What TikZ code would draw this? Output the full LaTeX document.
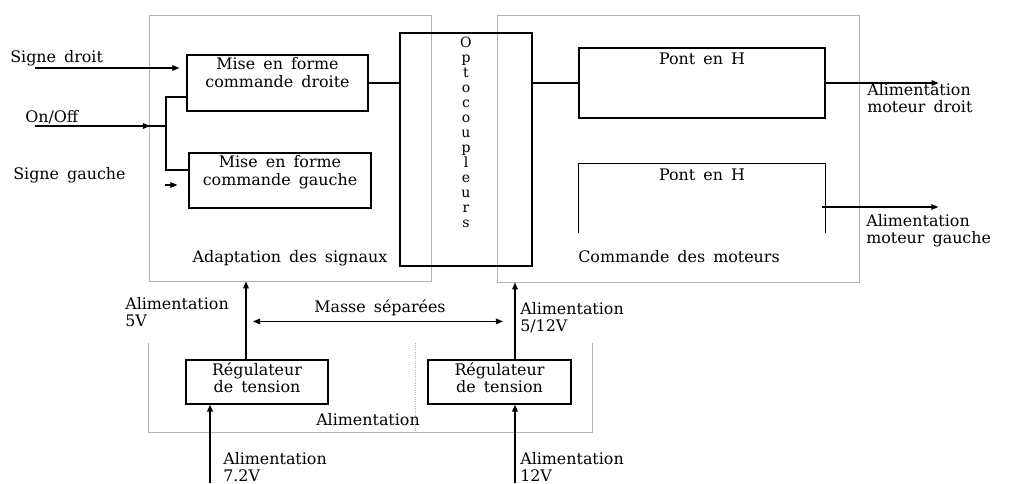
\documentclass[tikz,border=0pt]{standalone}
\usepackage{fontspec}
\setmainfont{DejaVu Serif}[WordSpace=1.6]
\usetikzlibrary{arrows.meta,positioning,calc}

\begin{document}
\begin{tikzpicture}[x=0.025cm, y=-0.025cm,
  frame/.style={draw=gray!60, line width=0.6pt},
  blk/.style={rectangle, draw, line width=0.8pt, inner sep=0pt},
  txt/.style={font=\fontsize{11.3}{12}\selectfont, align=left, inner sep=0pt},
  ctxt/.style={font=\fontsize{11.3}{12.5}\selectfont, align=center, inner sep=0pt},
  arr/.style={-{Triangle[length=5pt,width=4pt]}, line width=0.8pt},
  dbl/.style={{Triangle[length=5pt,width=4pt]}-{Triangle[length=5pt,width=4pt]}, line width=0.8pt},
  wire/.style={line width=0.8pt}
]
\useasboundingbox (0,0) rectangle (1021,483);

% Frames
\node[frame, rectangle, minimum width=7.05cm, minimum height=6.65cm]  (adapt) at (290,148) {};
\node[frame, rectangle, minimum width=9.05cm, minimum height=6.675cm] (cmd)   at (678,148.5) {};
\node[rectangle, minimum width=11.075cm, minimum height=2.225cm]      (alim)  at (370.5,387.5) {};
\draw[frame] (alim.north west) -- (alim.south west) -- (alim.south east) -- (alim.north east);
\draw[frame, densely dotted] ($(alim.north)+(44.5,0)$) -- ($(alim.south)+(44.5,0)$);

% Blocks
\node[blk, minimum width=4.525cm, minimum height=1.4cm]   (mfd)   at (277.5,83) {};
\node[blk, minimum width=4.55cm,  minimum height=1.375cm] (mfg)   at (280,180.5) {};
\node[blk, minimum width=3.3cm,   minimum height=5.825cm] (opto)  at (466,149.5) {};
\node[blk, minimum width=6.15cm,  minimum height=1.75cm]  (pontd) at (702,83) {};
\node[rectangle, minimum width=6.15cm, minimum height=1.725cm] (ponte) at (702,198.5) {};
\draw[wire] (ponte.south west) -- (ponte.north west) -- (ponte.north east) -- (ponte.south east);
\node[blk, minimum width=3.55cm,  minimum height=1.1cm]   (reg1)  at (257,382) {};
\node[blk, minimum width=3.575cm, minimum height=1.1cm]   (reg2)  at (499.5,382) {};

% Block texts
\node[ctxt, below=2pt of mfd.north]   {Mise en forme\\commande droite};
\node[ctxt, below=2pt of mfg.north]   {Mise en forme\\commande gauche};
\node[ctxt, font=\fontsize{10}{10.7}\selectfont, below=3pt of opto.north]
  {O\\p\\t\\o\\c\\o\\u\\p\\l\\e\\u\\r\\s};
\node[ctxt, below=3.5pt of pontd.north] {Pont en H};
\node[ctxt, below=3.5pt of ponte.north] {Pont en H};
\node[ctxt, below=2pt of reg1.north]  {Régulateur\\de tension};
\node[ctxt, below=2pt of reg2.north]  {Régulateur\\de tension};
\node[ctxt] (adaptlbl) at (290,258) {Adaptation des signaux};
\node[ctxt] (cmdlbl)   at (679,257) {Commande des moteurs};
\node[ctxt] (alimlbl)  at (368,420) {Alimentation};

% Outside labels
\node[txt, anchor=west] (sd) at (10,58)  {Signe droit};
\node[txt, anchor=west] (oo) at (25,117) {On/Off};
\node[txt, anchor=west] (sg) at (13,175) {Signe gauche};
\node[txt, anchor=north west] (amd) at (867,83)  {Alimentation\\moteur droit};
\node[txt, anchor=north west] (amg) at (866,214) {Alimentation\\moteur gauche};
\node[txt, anchor=north west] (a5)  at (125,297) {Alimentation\\5V};
\node[txt, anchor=north west] (a512) at (520,302) {Alimentation\\5/12V};
\node[txt, anchor=north west] (a72) at (223,452) {Alimentation\\7.2V};
\node[txt, anchor=north west] (a12) at (520,452) {Alimentation\\12V};
\node[ctxt] (masse) at (380,308) {Masse séparées};

% Inputs
\coordinate (sdin) at (35,68);
\coordinate (onin) at (35,126);
\coordinate (onj)  at (166,126);
\draw[arr, shorten >=5pt] (sdin) -- (sdin -| mfd.west);
\draw[wire] (onin) -- (onj);
\draw[arr] (onin) -- ($(onj)+(-16,0)$);
\draw[wire] ($(mfd.west)+(0,14)$) -| (onj) |- ($(mfg.west)+(0,-10.5)$);
\draw[arr] ($(mfg.west)+(-23,4.5)$) -- ++(12,0);

% Signal path
\draw[wire] (mfd.east) -- (mfd.east -| opto.west);
\draw[wire] ($(mfg.east)+(0,2.5)$) -- ($(mfg.east)+(0,2.5)$ -| opto.west);
\draw[wire] (opto.east |- pontd.west) -- (pontd.west);
\draw[wire] ($(ponte.west)+(0,-4.5)$ -| opto.east) -- ($(ponte.west)+(0,-4.5)$);
\draw[arr] (pontd.east) -- ++(113,0);
\draw[arr] ($(ponte.east)+(-3,8.5)$) -- ++(116,0);

% Power supply
\draw[arr] ($(reg1.north)+(-11,0)$) coordinate (r1o) -- (r1o |- adapt.south);
\draw[arr] ($(reg2.north)+(15.5,0)$) coordinate (r2o) -- (r2o |- cmd.south);
\draw[dbl] ($(r1o)+(7,-38)$) -- ($(r2o)+(-12,-38)$);
\coordinate (in72) at (210,483);
\coordinate (in12) at (515,483);
\draw[arr, line width=2pt] (in72) -- (in72 |- reg1.south);
\draw[arr, line width=1.2pt] (in12) -- (in12 |- reg2.south);
\end{tikzpicture}
\end{document}
